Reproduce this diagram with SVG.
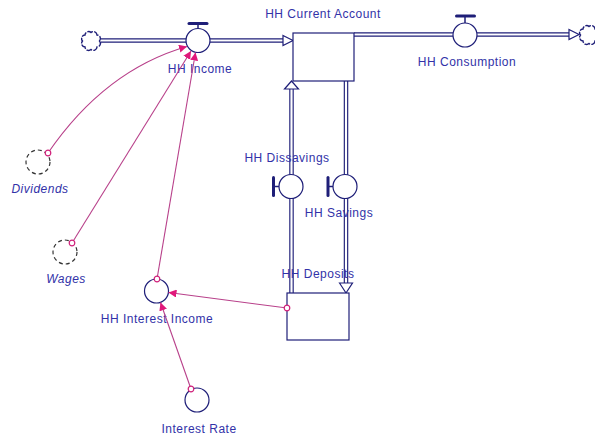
<svg xmlns="http://www.w3.org/2000/svg" width="595" height="438" viewBox="0 0 595 438">
<style>
.pipeo{fill:none;stroke:#1e1e78;stroke-width:4.5}
.pipei{fill:none;stroke:#ffffff;stroke-width:2.2}
.shape{fill:#ffffff;stroke:#1e1e78;stroke-width:1.2}
.valve{fill:#ffffff;stroke:#1e1e78;stroke-width:1.2}
.bar{fill:none;stroke:#1e1e78;stroke-width:3;stroke-linecap:round}
.stem{fill:none;stroke:#1e1e78;stroke-width:1.5}
.cloud{fill:#ffffff;stroke:#1e1e78;stroke-width:1.4;stroke-dasharray:6 1.2}
.ghost{fill:#ffffff;stroke:#333333;stroke-width:1.2;stroke-dasharray:4 3}
.aux{fill:#ffffff;stroke:#1e1e78;stroke-width:1.2}
.conn{fill:none;stroke:#b8408a;stroke-width:1.1}
.lbl{font-family:"Liberation Sans",Arial,sans-serif;font-size:12px;letter-spacing:0.5px;fill:#3232a8;text-anchor:middle}
.it{font-style:italic}
</style>
<defs>
<marker id="ah" markerUnits="userSpaceOnUse" markerWidth="10" markerHeight="8" refX="8" refY="4" orient="auto">
<path d="M0,0 L8,4 L0,8 Z" fill="#e0187a"/>
</marker>
<marker id="dot" markerUnits="userSpaceOnUse" markerWidth="8" markerHeight="8" refX="4" refY="4">
<circle cx="4" cy="4" r="2.8" fill="#ffffff" stroke="#d0207a" stroke-width="1.2"/>
</marker>
<path id="cloudp" class="cloud" d="M8.5,0 A3.6,3.6 0 0 1 6,6 A3.6,3.6 0 0 1 0,8.5 A3.6,3.6 0 0 1 -6,6 A3.6,3.6 0 0 1 -8.5,0 A3.6,3.6 0 0 1 -6,-6 A3.6,3.6 0 0 1 0,-8.5 A3.6,3.6 0 0 1 6,-6 A3.6,3.6 0 0 1 8.5,0 Z"/>
</defs>

<g id="flows">
<g id="flow-hh-income">
<path class="pipeo" d="M101,40.5 H284"/>
<path class="pipei" d="M100,40.5 H284"/>
<path d="M283,35.5 L293,40.5 L283,45.5 Z" fill="#ffffff" stroke="#1e1e78" stroke-width="1.2"/>
</g>
<g id="flow-hh-consumption">
<path class="pipeo" d="M354,34.5 H570"/>
<path class="pipei" d="M353,34.5 H570"/>
<path d="M569,29.5 L579,34.5 L569,39.5 Z" fill="#ffffff" stroke="#1e1e78" stroke-width="1.2"/>
</g>
<g id="flow-hh-savings">
<path class="pipeo" d="M346,81 V284"/>
<path class="pipei" d="M346,80 V284"/>
<path d="M339.5,283 L346,293 L352.5,283 Z" fill="#ffffff" stroke="#1e1e78" stroke-width="1.2"/>
</g>
<g id="flow-hh-dissavings">
<path class="pipeo" d="M291.5,293 V89"/>
<path class="pipei" d="M291.5,294 V89"/>
<path d="M284.5,89 L291.5,81 L298.5,89 Z" fill="#ffffff" stroke="#1e1e78" stroke-width="1.2"/>
</g>
</g>

<g id="cloud-left"><use href="#cloudp" x="91" y="41"/></g>
<g id="cloud-right"><use href="#cloudp" x="589" y="35"/></g>

<g id="hh-current-account">
<rect class="shape" x="293" y="33" width="61" height="48"/>
<text class="lbl" x="323" y="18">HH Current Account</text>
</g>

<g id="hh-deposits">
<rect class="shape" x="287" y="293" width="62" height="47"/>
<text class="lbl" x="318" y="278">HH Deposits</text>
</g>

<g id="hh-income">
<path class="stem" d="M198,24 V29"/>
<path class="bar" d="M189,23.5 H207"/>
<circle class="valve" cx="198" cy="40.5" r="12"/>
<text class="lbl" x="200" y="73">HH Income</text>
</g>

<g id="hh-consumption">
<path class="stem" d="M465,16 V23"/>
<path class="bar" d="M456.5,16 H474.5"/>
<circle class="valve" cx="465" cy="35" r="12"/>
<text class="lbl" x="467" y="66">HH Consumption</text>
</g>

<g id="hh-dissavings">
<path class="stem" d="M274,186.5 H279"/>
<path class="bar" d="M273.5,177.5 V195.5"/>
<circle class="valve" cx="291" cy="186.5" r="12"/>
<text class="lbl" x="287" y="162">HH Dissavings</text>
</g>

<g id="hh-savings">
<path class="stem" d="M328,186.5 H333"/>
<path class="bar" d="M328,177.5 V195.5"/>
<circle class="valve" cx="345" cy="186.5" r="12"/>
<text class="lbl" x="339" y="217">HH Savings</text>
</g>

<g id="dividends">
<circle class="ghost" cx="38" cy="162" r="12"/>
<text class="lbl it" x="40" y="193">Dividends</text>
</g>

<g id="wages">
<circle class="ghost" cx="65" cy="252" r="12"/>
<text class="lbl it" x="66" y="283">Wages</text>
</g>

<g id="hh-interest-income">
<circle class="aux" cx="156.5" cy="291" r="12"/>
<text class="lbl" x="157" y="323">HH Interest Income</text>
</g>

<g id="interest-rate">
<circle class="aux" cx="197" cy="400" r="12"/>
<text class="lbl" x="199" y="433">Interest Rate</text>
</g>

<g id="connectors">
<path class="conn" d="M48,153 Q105,70 187,46.5" marker-start="url(#dot)" marker-end="url(#ah)"/>
<path class="conn" d="M72,243 L191,51" marker-start="url(#dot)" marker-end="url(#ah)"/>
<path class="conn" d="M157,279 L195.5,52.5" marker-start="url(#dot)" marker-end="url(#ah)"/>
<path class="conn" d="M287,308 L168.5,292.5" marker-start="url(#dot)" marker-end="url(#ah)"/>
<path class="conn" d="M191,389 L160.5,302.5" marker-start="url(#dot)" marker-end="url(#ah)"/>
</g>
</svg>
